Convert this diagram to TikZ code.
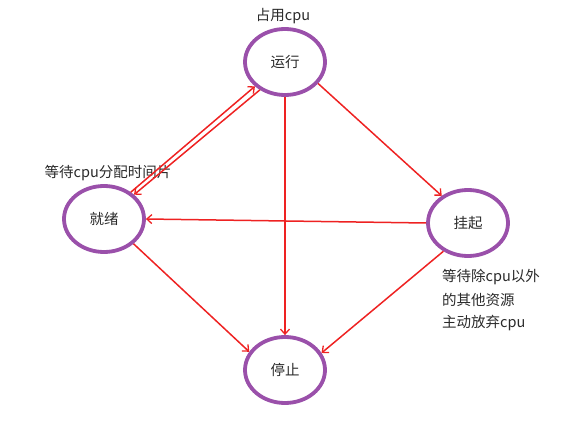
\documentclass[tikz,border=0pt]{standalone}
\usepackage{fontspec}
\setmainfont{Noto Sans CJK SC}
\usetikzlibrary{shapes.geometric,arrows.meta}
\definecolor{stpurple}{HTML}{9A50AA}
\definecolor{arred}{HTML}{EE2222}
\definecolor{txt}{HTML}{2A2A2A}
\tikzset{
  state/.style={ellipse,draw=stpurple,line width=3.8pt,minimum width=80pt,minimum height=66pt,inner sep=0pt,text=txt,font=\fontsize{14.5}{17}\selectfont},
  arr/.style={draw=arred,line width=1.5pt,-{Straight Barb[length=5pt,width=9pt,line width=1.3pt]}},
  lbl/.style={text=txt,font=\fontsize{14.5}{17}\selectfont,inner sep=0pt}
}
\begin{document}
\begin{tikzpicture}[x=1pt,y=-1pt]
\useasboundingbox (0,0) rectangle (579,422);
\node[state] (yx) at (285,62) {运行};
\node[state] (jx) at (104,219) {就绪};
\node[state] (gq) at (468,223) {挂起};
\node[state] (tz) at (285,370) {停止};
\node[lbl] (l1) at (283,16) {占用cpu};
\node[lbl] (l2) at (108,173) {等待cpu分配时间片};
\node[lbl,anchor=west] (l3) at (442,277) {等待除cpu以外};
\node[lbl,anchor=west] (l4) at (442,300) {的其他资源};
\node[lbl,anchor=west] (l5) at (442,323) {主动放弃cpu};
\draw[arr] (jx.45) -- (yx.219);
\draw[arr] (yx.228) -- (jx.39);
\draw[arr] (yx.-33) -- (gq.134);
\draw[arr] (yx.south) -- (tz.north);
\draw[arr] (gq.west) -- (jx.east);
\draw[arr] (jx.-40) -- (tz.153);
\draw[arr] (gq.-131) -- (tz.25);
\end{tikzpicture}
\end{document}
